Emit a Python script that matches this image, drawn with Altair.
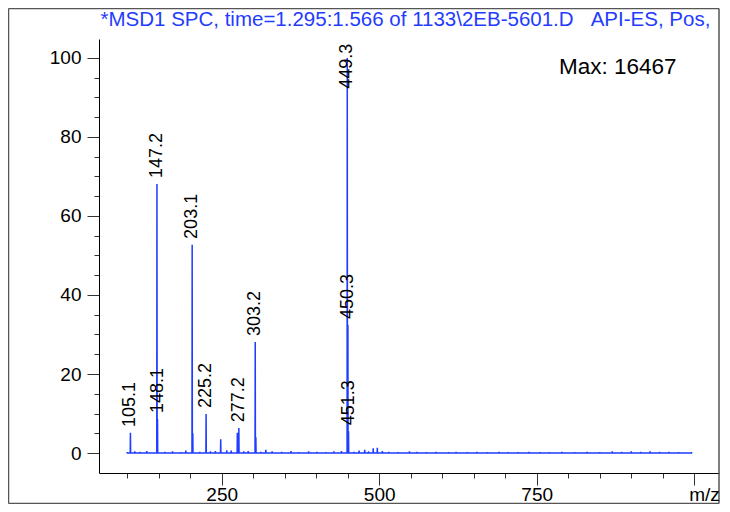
import altair as alt
import pandas as pd

# ---- data ----
peak_mz = [105.1, 147.2, 148.1, 203.1, 204.1, 225.2, 248.4, 274.8, 277.2,
           303.2, 304.2, 320.0, 449.3, 450.3, 451.3, 477.0, 490.5, 497.0]
peak_int = [5.1, 68.1, 8.6, 52.7, 5.0, 9.9, 3.5, 5.1, 6.3,
            28.1, 4.0, 0.8, 100.0, 32.4, 5.5, 0.8, 1.2, 1.3]

noise_mz = [100, 112, 120, 131, 160, 172, 185, 193, 215, 232, 240, 258, 265,
            285, 292, 312, 330, 345, 360, 372, 388, 401, 415, 428, 440, 460,
            468, 483, 505, 515, 530, 548, 560, 575, 590, 610, 622, 640, 655,
            672, 690, 705, 720, 738, 755, 770, 790, 810, 830, 850, 870, 885,
            900, 915, 930, 945, 960, 975, 996]
noise_int = [0.2, 0.4, 0.3, 0.5, 0.3, 0.4, 0.2, 0.6, 0.3, 0.4, 0.5, 0.7, 0.6,
             0.4, 0.5, 0.3, 0.4, 0.3, 0.5, 0.2, 0.4, 0.3, 0.2, 0.4, 0.5, 0.3,
             0.6, 0.4, 0.5, 0.3, 0.2, 0.4, 0.3, 0.2, 0.3, 0.2, 0.3, 0.2, 0.3,
             0.2, 0.3, 0.2, 0.2, 0.3, 0.2, 0.2, 0.3, 0.2, 0.3, 0.2, 0.4, 0.3,
             0.4, 0.3, 0.4, 0.3, 0.3, 0.2, 0.2]

label_mz = [105.1, 147.2, 148.1, 203.1, 225.2, 277.2, 303.2, 449.3, 450.3, 451.3]

x_ticks = list(range(100, 1001, 50))
y_ticks = list(range(0, 101, 5))

NB = "\u00a0"
title_text = "*MSD1 SPC, time=1.295:1.566 of 1133\\2EB-5601.D" + NB * 3 + "API-ES, Pos,"
max_text = "Max: 16467"

# ---- build profile table ----
pts = sorted(list(zip(peak_mz, peak_int)) + list(zip(noise_mz, noise_int)))
rows = []
for m, v in pts:
    rows.append({"mz": m - 0.3, "i": 0.0})
    rows.append({"mz": m, "i": v})
    rows.append({"mz": m + 0.3, "i": 0.0})
rows = sorted(rows, key=lambda r: r["mz"])
for k, r in enumerate(rows):
    r["o"] = k
profile = pd.DataFrame(rows)

YMIN, YMAX = -5.06, 104.8
XMIN, XMAX = 55.2, 1039.4
peak_lookup = dict(zip(peak_mz, peak_int))
labels = pd.DataFrame({
    "mz": label_mz,
    "ly": [min(peak_lookup[m] + 1.5, YMAX - 12.6) for m in label_mz],
    "t": [f"{m:.1f}" for m in label_mz],
})

W, H = 620, 434
BLUE = "#1f3cff"
FONT = "Liberation Sans"

xs = alt.Scale(domain=[XMIN, XMAX], nice=False, zero=False)
ys = alt.Scale(domain=[YMIN, YMAX], nice=False, zero=False)

x_axis = alt.Axis(
    values=x_ticks, tickCount=100, title=None, grid=False, labelFlush=False,
    labelOverlap=False,
    labelExpr="datum.value % 250 == 0 && datum.value < 1000 ? datum.label : ''",
    tickSize={"condition": {"test": "datum.value % 250 == 0", "value": 12}, "value": 5},
    labelPadding=0, labelFontSize=19, labelFont=FONT, labelColor="black",
    domainColor="black", tickColor="#333", domainWidth=1, tickWidth=1,
)
y_axis = alt.Axis(
    values=y_ticks, tickCount=100, title=None, grid=False, labelOverlap=False,
    labelFlush=False,
    labelExpr="datum.value % 20 == 0 ? datum.label : ''",
    tickSize={"condition": {"test": "datum.value % 20 == 0", "value": 12}, "value": 5},
    labelPadding=6, labelFontSize=19, labelFont=FONT, labelColor="black",
    domainColor="black", tickColor="#333", domainWidth=1, tickWidth=1,
)

spectrum = alt.Chart(profile).mark_line(color=BLUE, strokeWidth=1.5).encode(
    x=alt.X("mz:Q", scale=xs, axis=x_axis),
    y=alt.Y("i:Q", scale=ys, axis=y_axis),
    order="o:Q",
)

peak_labels = alt.Chart(labels).mark_text(
    angle=270, align="left", baseline="middle", fontSize=18, font=FONT, color="black"
).encode(x=alt.X("mz:Q", scale=xs), y=alt.Y("ly:Q", scale=ys), text="t:N")

one = pd.DataFrame({"a": [0]})
frame_color = "#555"
left_frame = alt.Chart(one).mark_rule(color=frame_color, strokeWidth=1.5).encode(
    x=alt.value(-90.5), y=alt.value(-30.5), y2=alt.value(464.5))
right_frame = alt.Chart(one).mark_rule(color=frame_color, strokeWidth=1.5).encode(
    x=alt.value(620), y=alt.value(-30.5), y2=alt.value(464.5))
top_frame = alt.Chart(one).mark_rule(color=frame_color, strokeWidth=1.5).encode(
    x=alt.value(-90.5), x2=alt.value(620), y=alt.value(-30.5))
bottom_frame = alt.Chart(one).mark_rule(color=frame_color, strokeWidth=1.5).encode(
    x=alt.value(-90.5), x2=alt.value(620), y=alt.value(464.5))

title = alt.Chart(one).mark_text(
    align="left", baseline="middle", fontSize=20.5, font=FONT, color=BLUE
).encode(x=alt.value(1.5), y=alt.value(-19.5), text=alt.value(title_text))

maxlab = alt.Chart(one).mark_text(
    align="left", baseline="middle", fontSize=22.5, font=FONT, color="black"
).encode(x=alt.value(460), y=alt.value(28), text=alt.value(max_text))

mz_lab = alt.Chart(one).mark_text(
    align="left", baseline="alphabetic", fontSize=19, font=FONT, color="black", dx=-5
).encode(x=alt.datum(1000, scale=xs), y=alt.value(H + 28), text=alt.value("m/z"))

chart = alt.layer(
    left_frame, right_frame, top_frame, bottom_frame,
    spectrum, peak_labels, title, maxlab, mz_lab,
).properties(
    width=W, height=H,
    autosize=alt.AutoSizeParams(type="none"),
    padding={"left": 91, "top": 31, "right": 1, "bottom": 31},
).configure_view(stroke=None)

chart.save("out.html", embed_options={"renderer": "svg", "actions": False})
